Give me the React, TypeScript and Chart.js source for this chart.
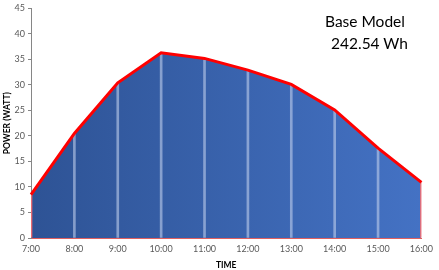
import React, { useEffect, useRef } from "react";
import { Chart, registerables } from "chart.js";

Chart.register(...registerables);

const times = ["7:00", "8:00", "9:00", "10:00", "11:00", "12:00", "13:00", "14:00", "15:00", "16:00"];
const power = [8.5, 20.5, 30.4, 36.3, 35.2, 32.9, 30.1, 25.1, 17.6, 10.9];
const yTicks = [0, 5, 10, 15, 20, 25, 30, 35, 40, 45];
const titleLines = ["Base Model", "242.54 Wh"];

const FONT = "Lato, 'Open Sans', sans-serif";

export default function App() {
  const ref = useRef<HTMLCanvasElement>(null);
  useEffect(() => {
    document.body.style.margin = "0";
    const ctx = ref.current!.getContext("2d")!;
    const edgeColors = power.map((_, i) =>
      i === 0 || i === power.length - 1 ? "rgba(255,110,110,0.9)" : "rgba(190,205,235,0.6)"
    );
    const chart = new Chart(ctx, {
      type: "line",
      data: {
        labels: times,
        datasets: [
          {
            type: "line",
            data: power,
            borderColor: "#ff0000",
            borderWidth: 3,
            pointRadius: 0,
            tension: 0,
            fill: "origin",
            order: 1,
            backgroundColor: (c: any) => {
              const area = c.chart.chartArea;
              if (!area) return "#3a62ad";
              const g = c.chart.ctx.createLinearGradient(area.left, 0, area.right, 0);
              g.addColorStop(0, "#2e5395");
              g.addColorStop(1, "#4472c4");
              return g;
            },
          } as any,
          {
            type: "bar",
            data: power,
            backgroundColor: edgeColors,
            barThickness: 2,
            order: 2,
          } as any,
        ],
      },
      options: {
        animation: false,
        responsive: false,
        maintainAspectRatio: false,
        layout: { padding: { top: 7, right: 12, left: 0, bottom: 0 } },
        plugins: {
          legend: { display: false },
          tooltip: { enabled: false },
          filler: { drawTime: "beforeDatasetsDraw" },
        } as any,
        scales: {
          x: {
            type: "category",
            offset: false,
            grid: { display: false, offset: false, drawTicks: false } as any,
            border: { color: "#e06060", width: 1 },
            ticks: { color: "#595959", font: { family: FONT, size: 9 }, padding: 6, maxRotation: 0, autoSkip: false },
            title: { display: true, text: "TIME", color: "#000", font: { family: FONT, size: 8.5, weight: "bold" }, padding: { top: 3, bottom: 0 } },
            afterFit: (s: any) => { s.height = 32; },
          },
          y: {
            min: 0,
            max: 45,
            afterBuildTicks: (s: any) => { s.ticks = yTicks.map((v) => ({ value: v })); },
            grid: { display: true, drawOnChartArea: false, drawTicks: true, tickLength: 3, color: "#868686" },
            border: { color: "#868686", width: 1 },
            ticks: { color: "#595959", font: { family: FONT, size: 9 }, padding: 3 },
            title: { display: true, text: "POWER (WATT)", color: "#000", font: { family: FONT, size: 8.5, weight: "bold" }, padding: { top: 2, bottom: 1 } },
            afterFit: (s: any) => { s.width = 31; },
          },
        },
      },
    });
    return () => chart.destroy();
  }, []);
  const lineStyle = (left: number, top: number): React.CSSProperties => ({
    position: "absolute",
    left,
    top,
    whiteSpace: "nowrap",
    fontFamily: FONT,
    fontSize: 15.5,
    lineHeight: "20px",
    color: "#000",
  });
  return (
    <div style={{ position: "relative", width: 439, height: 270 }}>
      <canvas ref={ref} width={439} height={270} style={{ display: "block" }} />
      <div style={lineStyle(325, 11)}>{titleLines[0]}</div>
      <div style={lineStyle(331, 33)}>{titleLines[1]}</div>
    </div>
  );
}
